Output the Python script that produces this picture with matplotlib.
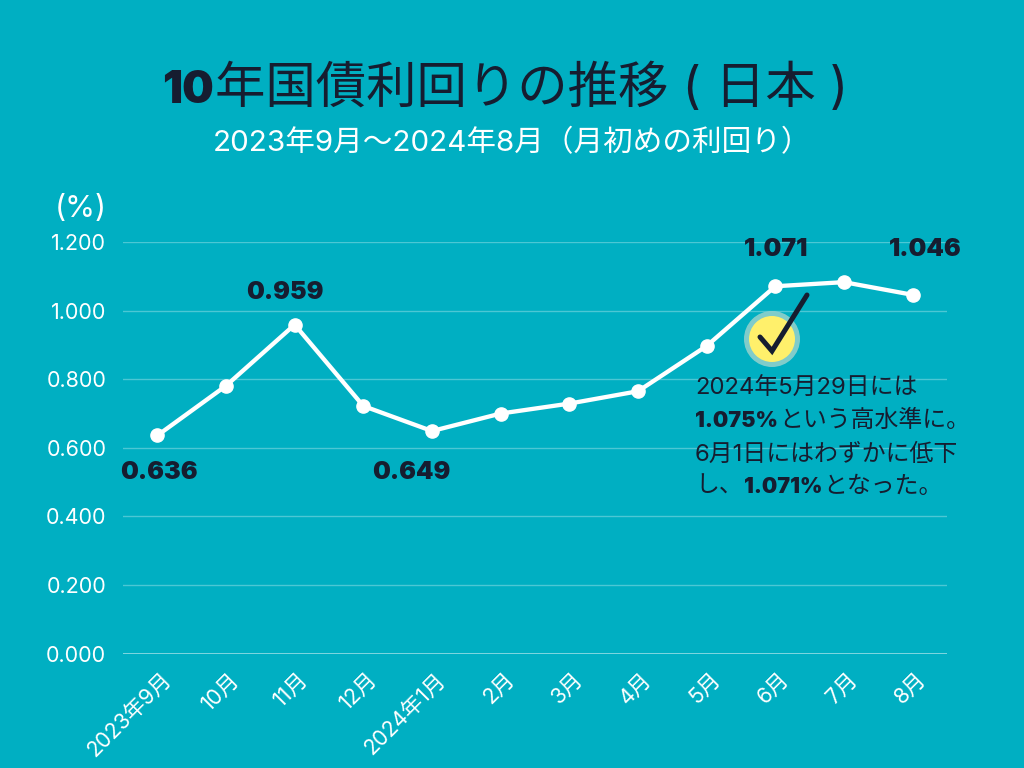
import matplotlib
matplotlib.use("Agg")
import matplotlib.pyplot as plt
from matplotlib.patches import Circle
from matplotlib.transforms import ScaledTranslation

months = ["2023年9月", "10月", "11月", "12月", "2024年1月", "2月", "3月", "4月", "5月", "6月", "7月", "8月"]
yields = [0.636, 0.781, 0.959, 0.722, 0.649, 0.700, 0.729, 0.765, 0.897, 1.071, 1.083, 1.046]
y_ticks = [0.0, 0.2, 0.4, 0.6, 0.8, 1.0, 1.2]
labelled = {0: "0.636", 2: "0.959", 4: "0.649", 9: "1.071", 11: "1.046"}

BG = "#00AFC2"
DARK = "#161D30"
WHITE = "#FFFFFF"
YELLOW = "#FFF06B"
REG = ["Inter", "Noto Sans CJK JP"]
BOLD = ["Inter", "Noto Sans CJK JP"]

W, H = 1024, 768
fig = plt.figure(figsize=(W / 100, H / 100), dpi=100, facecolor=BG)

# overlay in pixel coordinates for text and decoration
ov = fig.add_axes([0, 0, 1, 1], zorder=5)
ov.set_xlim(0, W); ov.set_ylim(H, 0); ov.axis("off")

# ── Chart ─────────────────────────────────────────────────────────────────────
ax = fig.add_axes([123 / W, (H - 653.7) / H, (947 - 123) / W, (653.7 - 242) / H], zorder=2)
ax.set_facecolor("none")
x = range(len(months))
ax.plot(x, yields, color=WHITE, lw=3.1, marker="o", ms=9.5, mec=WHITE, mfc=WHITE, zorder=3, clip_on=False)
ax.set_xlim(-0.5, 11.5)
ax.set_ylim(0, 1.2)
ax.set_yticks(y_ticks)
ax.set_yticklabels([f"{v:.3f}" for v in y_ticks], family=REG, fontsize=15.5, color=WHITE)
ax.set_xticks(list(x))
ax.set_xticklabels(months, family=REG, fontsize=15.5, color=WHITE, rotation=45,
                   ha="right", rotation_mode="anchor")
ax.tick_params(length=0)
ax.tick_params(axis="y", pad=12)
ax.tick_params(axis="x", pad=11)
nudge = ScaledTranslation(3 / 100, 0, fig.dpi_scale_trans)
for lab in ax.get_xticklabels():
    lab.set_transform(lab.get_transform() + nudge)
ax.grid(axis="y", color=WHITE, alpha=0.3, lw=1)
ax.set_axisbelow(True)
for name, spine in ax.spines.items():
    spine.set_visible(False)
ax.axhline(0, color=WHITE, alpha=0.55, lw=1.2, zorder=1)

# data labels, offset from their points (pixels)
offsets = {0: (2, 37), 2: (-10, -32), 4: (-21, 41), 9: (1, -37), 11: (13, -45)}
for i, txt in labelled.items():
    ax.annotate(txt, (i, yields[i]), xytext=(offsets[i][0] * 0.72, -offsets[i][1] * 0.72),
                textcoords="offset points", ha="center", va="center",
                family=BOLD, fontsize=18, fontweight="black", color=DARK, zorder=6)


def runs(x0, y0, parts, color):
    """Draw text pieces one after another along a baseline, left to right."""
    rend = fig.canvas.get_renderer()
    px = x0
    for s, bold, size in parts:
        t = ov.text(px, y0, s, ha="left", va="baseline", fontsize=size, color=color,
                    family=BOLD if bold else REG, fontweight="black" if bold else "regular")
        px = t.get_window_extent(rend).x1 + 1
    return px


# ── Title ─────────────────────────────────────────────────────────────────────
runs(162, 103, [("10", True, 32), ("年国債利回りの推移 ( 日本 )", False, 36.3)], DARK)
ov.text(512, 151, "2023年9月〜2024年8月（月初めの利回り）", ha="center", va="baseline",
        fontsize=21.3, color=WHITE, family=REG)
ov.text(81, 217, "(%)", ha="center", va="baseline", fontsize=22, color=WHITE, family=REG)

# ── Check mark callout ────────────────────────────────────────────────────────
ov.add_patch(Circle((772, 339), 28, fc="#8FD0CC", ec="none", alpha=0.9, zorder=1))
ov.add_patch(Circle((772, 339), 23, fc=YELLOW, ec="none", zorder=2))
ov.plot([760, 772, 807], [337, 351, 295], color=DARK, lw=3.6, solid_capstyle="round",
        solid_joinstyle="miter", zorder=3)

# ── Note ──────────────────────────────────────────────────────────────────────
runs(695, 395, [("2024年5月29日には", False, 17.2)], DARK)
runs(695, 427, [("1.075%", True, 15.5), ("という高水準に。", False, 17.2)], DARK)
runs(695, 461, [("6月1日にはわずかに低下", False, 17.2)], DARK)
runs(695, 493, [("し、", False, 17.2), ("1.071%", True, 15.5), ("となった。", False, 17.2)], DARK)

fig.savefig("out.png", dpi=100, facecolor=BG)
